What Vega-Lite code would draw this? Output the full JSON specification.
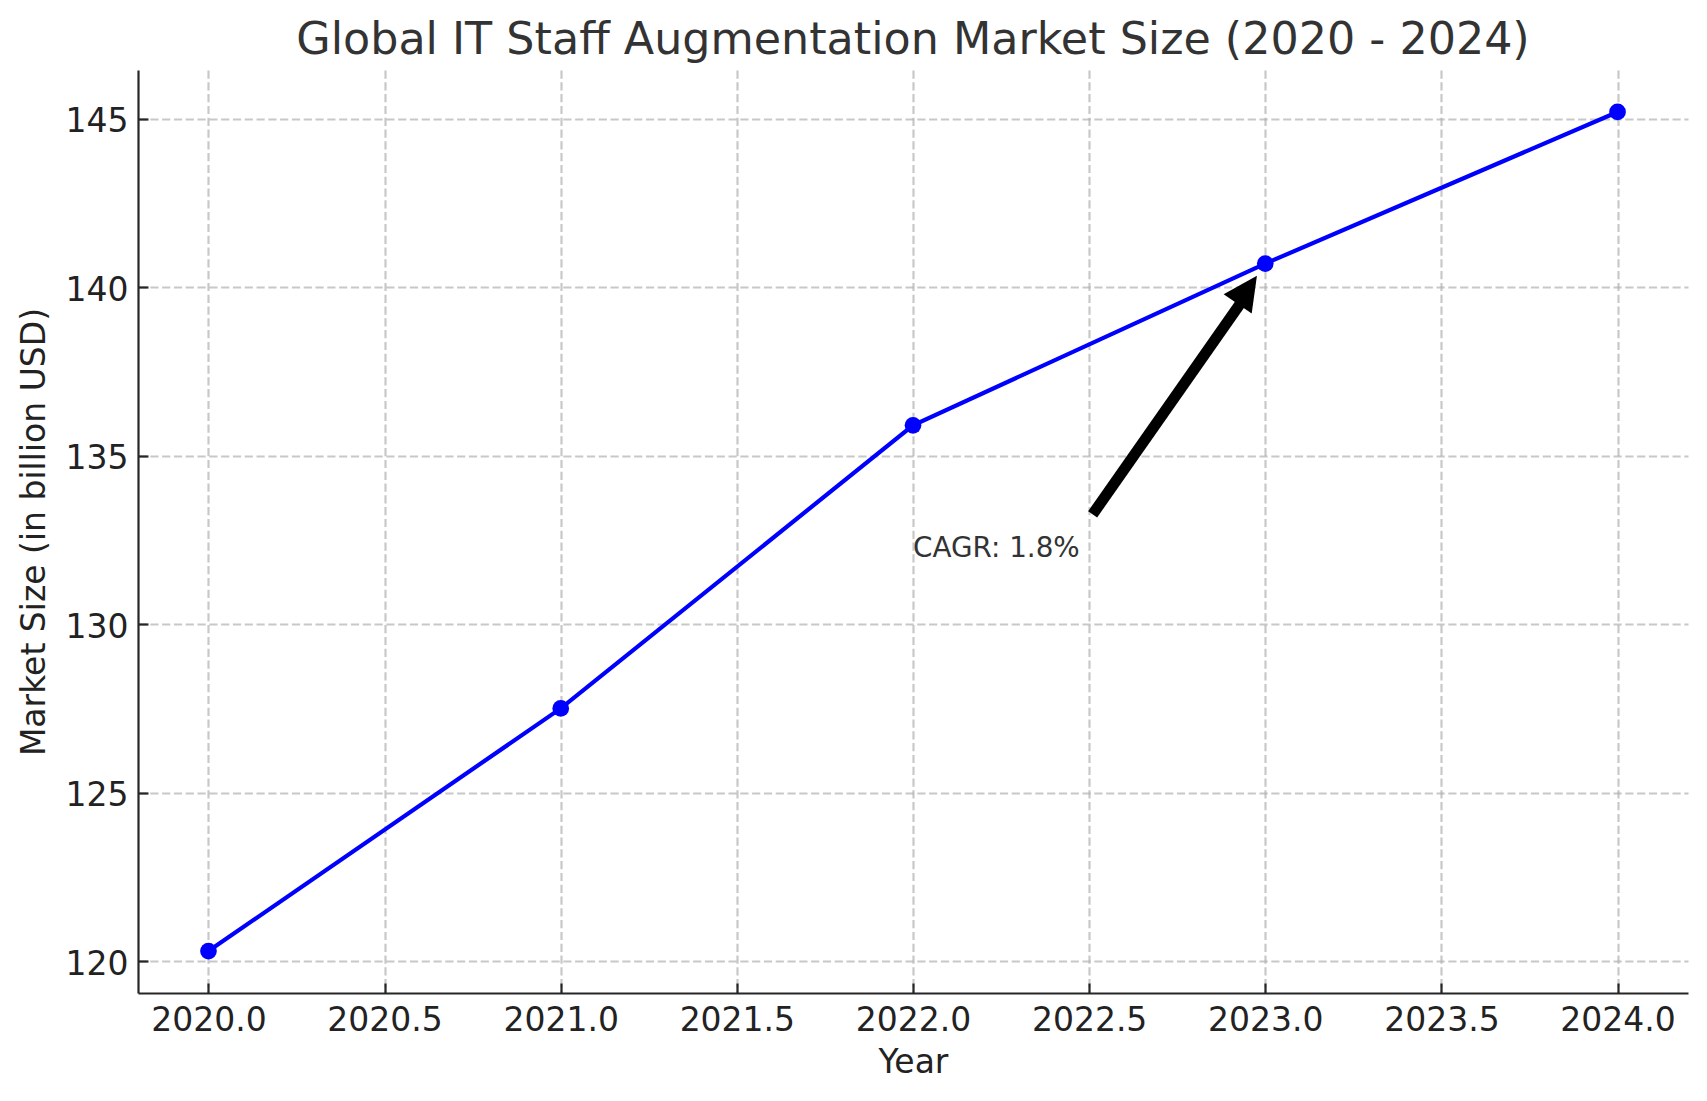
{
  "$schema": "https://vega.github.io/schema/vega-lite/v6.json",
  "width": 1550,
  "height": 923,
  "autosize": "none",
  "padding": {"left": 138, "top": 70, "right": 19, "bottom": 108},
  "background": "white",
  "title": {
    "text": "Global IT Staff Augmentation Market Size (2020 - 2024)",
    "font": "DejaVu Sans",
    "fontSize": 44.4,
    "fontWeight": "normal",
    "color": "#333333",
    "anchor": "middle",
    "baseline": "alphabetic",
    "offset": 16,
    "dy": 44
  },
  "datasets": {
    "market": [
      {"Year": 2020, "Size": 120.3},
      {"Year": 2021, "Size": 127.5},
      {"Year": 2022, "Size": 135.9},
      {"Year": 2023, "Size": 140.7},
      {"Year": 2024, "Size": 145.2}
    ],
    "arrow": [
      {"x": 2022.51, "y": 133.26, "x2": 2022.935, "y2": 139.6}
    ],
    "head": [
      {"x": 2022.949, "y": 139.92}
    ],
    "note": [
      {"x": 2022.0, "y": 132.0, "label": "CAGR: 1.8%"}
    ]
  },
  "layer": [
    {
      "data": {"name": "market"},
      "mark": {"type": "line", "color": "#0000ff", "strokeWidth": 4.2, "clip": true},
      "encoding": {
        "x": {
          "field": "Year",
          "type": "quantitative",
          "scale": {"domain": [2019.8, 2024.2], "nice": false, "zero": false},
          "axis": {
            "title": "Year",
            "values": [2020, 2020.5, 2021, 2021.5, 2022, 2022.5, 2023, 2023.5, 2024],
            "format": ".1f",
            "labelBaseline": "alphabetic",
            "labelPadding": 47.8,
            "labelAlign": "center",
            "titleX": 775,
            "titleY": 79.5,
            "titleBaseline": "alphabetic",
            "titleAlign": "center"
          }
        },
        "y": {
          "field": "Size",
          "type": "quantitative",
          "scale": {"domain": [119.055, 146.445], "nice": false, "zero": false},
          "axis": {
            "title": "Market Size (in billion USD)",
            "values": [120, 125, 130, 135, 140, 145],
            "format": "d",
            "labelBaseline": "alphabetic",
            "labelOffset": 13,
            "labelPadding": 20,
            "labelAlign": "right",
            "titleX": -93.3,
            "titleY": 461.5,
            "titleAngle": -90,
            "titleBaseline": "alphabetic",
            "titleAlign": "center"
          }
        }
      }
    },
    {
      "data": {"name": "market"},
      "mark": {"type": "point", "shape": "circle", "filled": true, "color": "#0000ff", "size": 279, "opacity": 1},
      "encoding": {
        "x": {"field": "Year", "type": "quantitative"},
        "y": {"field": "Size", "type": "quantitative"}
      }
    },
    {
      "data": {"name": "arrow"},
      "mark": {"type": "rule", "color": "#000000", "strokeWidth": 11, "strokeCap": "butt"},
      "encoding": {
        "x": {"field": "x", "type": "quantitative"},
        "y": {"field": "y", "type": "quantitative"},
        "x2": {"field": "x2"},
        "y2": {"field": "y2"}
      }
    },
    {
      "data": {"name": "head"},
      "mark": {"type": "point", "shape": "M0,-1L1,1L-1,1Z", "filled": true, "color": "#000000", "size": 1156, "angle": 34.5, "opacity": 1},
      "encoding": {
        "x": {"field": "x", "type": "quantitative"},
        "y": {"field": "y", "type": "quantitative"}
      }
    },
    {
      "data": {"name": "note"},
      "mark": {"type": "text", "align": "left", "baseline": "alphabetic", "font": "DejaVu Sans", "fontSize": 27.8, "color": "#333333"},
      "encoding": {
        "x": {"field": "x", "type": "quantitative"},
        "y": {"field": "y", "type": "quantitative"},
        "text": {"field": "label"}
      }
    }
  ],
  "config": {
    "view": {"stroke": null},
    "font": "DejaVu Sans",
    "axis": {
      "grid": true,
      "gridColor": "#b0b0b0",
      "gridOpacity": 0.7,
      "gridWidth": 2.2,
      "gridDash": [8.2, 3.6],
      "domainColor": "#262626",
      "domainWidth": 2.2,
      "tickColor": "#262626",
      "tickWidth": 2.2,
      "tickSize": -10,
      "labelFont": "DejaVu Sans",
      "labelFontSize": 33,
      "labelColor": "#222222",
      "labelFlush": false,
      "labelOverlap": false,
      "titleFont": "DejaVu Sans",
      "titleFontSize": 33,
      "titleFontWeight": "normal",
      "titleColor": "#222222"
    }
  }
}
